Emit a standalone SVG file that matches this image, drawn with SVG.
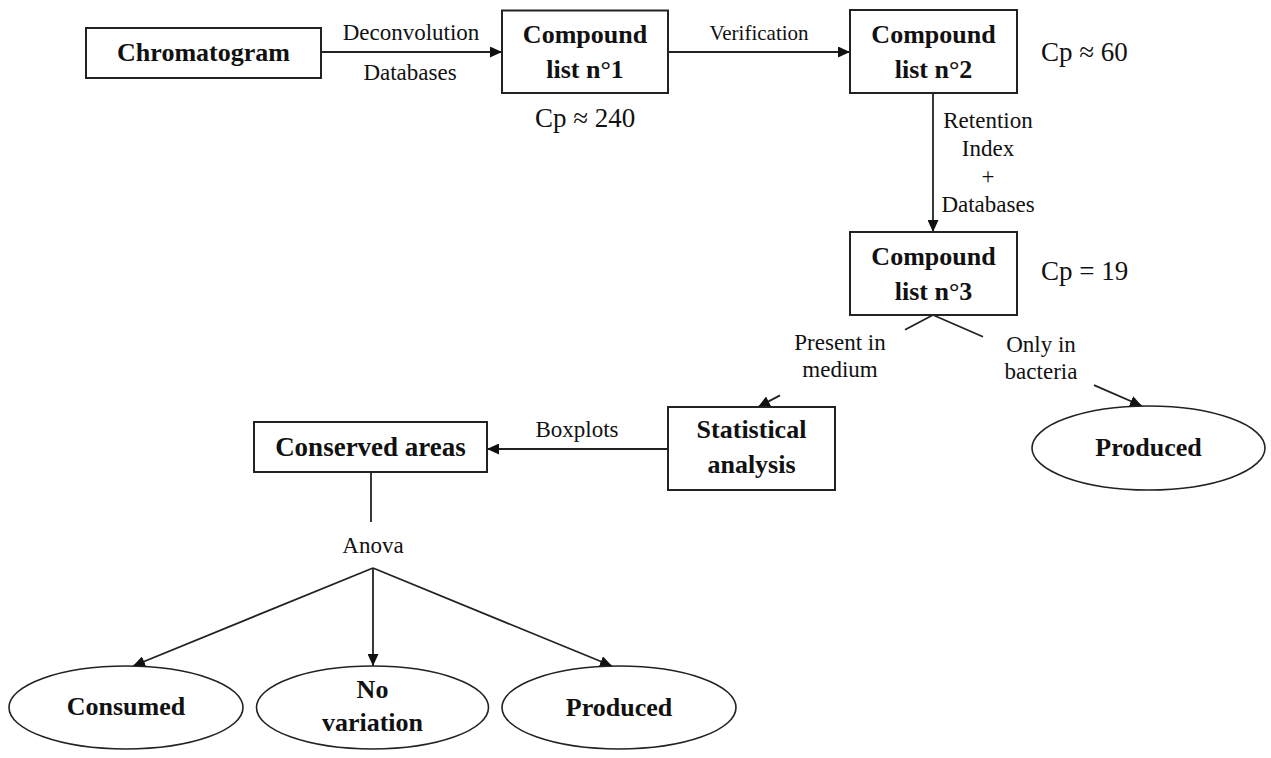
<svg xmlns="http://www.w3.org/2000/svg" width="1271" height="758" viewBox="0 0 1271 758">
<defs>
<style>
.box{fill:#fff;stroke:#222;stroke-width:2}
.ell{fill:#fff;stroke:#222;stroke-width:1.6}
.ln{fill:none;stroke:#222;stroke-width:1.8}
.b{font-family:"Liberation Serif","Times New Roman",serif;font-weight:bold;font-size:26px;fill:#111;text-anchor:middle}
.l{font-family:"Liberation Serif","Times New Roman",serif;font-size:23px;fill:#111;text-anchor:middle}
.cp{font-family:"Liberation Serif","Times New Roman",serif;font-size:27px;fill:#111}
</style>
<marker id="ah" markerUnits="userSpaceOnUse" markerWidth="12" markerHeight="11" refX="12" refY="5.5" orient="auto">
<path d="M0,0 L12,5.5 L0,11 z" fill="#111"/>
</marker>
</defs>
<rect width="1271" height="758" fill="#fff"/>

<g id="connectors">
<line class="ln" x1="321" y1="52" x2="502" y2="52" marker-end="url(#ah)"/>
<line class="ln" x1="668" y1="52" x2="850" y2="52" marker-end="url(#ah)"/>
<line class="ln" x1="933" y1="93" x2="933" y2="232" marker-end="url(#ah)"/>
<line class="ln" x1="933" y1="315" x2="905" y2="329.7"/>
<line class="ln" x1="780" y1="395.4" x2="758" y2="407" marker-end="url(#ah)"/>
<line class="ln" x1="933" y1="315" x2="983" y2="336.8"/>
<line class="ln" x1="1094" y1="385.1" x2="1142" y2="406" marker-end="url(#ah)"/>
<line class="ln" x1="668" y1="449" x2="487" y2="449" marker-end="url(#ah)"/>
<line class="ln" x1="371" y1="472" x2="371" y2="522"/>
<line class="ln" x1="373" y1="568" x2="133" y2="666" marker-end="url(#ah)"/>
<line class="ln" x1="373" y1="568" x2="373" y2="666" marker-end="url(#ah)"/>
<line class="ln" x1="373" y1="568" x2="612" y2="666" marker-end="url(#ah)"/>
<text class="l" x="411" y="40">Deconvolution</text>
<text class="l" x="410" y="80">Databases</text>
<text class="l" x="759" y="40" style="font-size:21px">Verification</text>
<text class="l" x="988" y="128">Retention</text>
<text class="l" x="988" y="156">Index</text>
<text class="l" x="988" y="184">+</text>
<text class="l" x="988" y="212">Databases</text>
<text class="l" x="840" y="350">Present in</text>
<text class="l" x="840" y="377">medium</text>
<text class="l" x="1041" y="352">Only in</text>
<text class="l" x="1041" y="379">bacteria</text>
<text class="l" x="577" y="437">Boxplots</text>
<text class="l" x="373" y="553">Anova</text>
</g>

<g id="chromatogram">
<rect class="box" x="86" y="28" width="235" height="50"/>
<text class="b" x="203.5" y="61">Chromatogram</text>
</g>

<g id="list1">
<rect class="box" x="502" y="10.5" width="166" height="82.5"/>
<text class="b" x="585" y="43">Compound</text>
<text class="b" x="585" y="78">list n°1</text>
<text class="cp" x="535" y="127">Cp ≈ 240</text>
</g>

<g id="list2">
<rect class="box" x="850" y="10" width="167" height="83"/>
<text class="b" x="933.5" y="43">Compound</text>
<text class="b" x="933.5" y="78">list n°2</text>
<text class="cp" x="1041" y="61">Cp ≈ 60</text>
</g>

<g id="list3">
<rect class="box" x="850" y="232" width="167" height="83"/>
<text class="b" x="933.5" y="265">Compound</text>
<text class="b" x="933.5" y="300">list n°3</text>
<text class="cp" x="1041" y="280">Cp = 19</text>
</g>

<g id="statistical">
<rect class="box" x="668" y="407" width="167" height="83"/>
<text class="b" x="751.5" y="438">Statistical</text>
<text class="b" x="751.5" y="473">analysis</text>
</g>

<g id="produced-top">
<ellipse class="ell" cx="1148.5" cy="448" rx="116.5" ry="42"/>
<text class="b" x="1148.5" y="456">Produced</text>
</g>

<g id="conserved">
<rect class="box" x="254" y="422" width="233" height="50"/>
<text class="b" x="370.5" y="456" style="font-size:27px">Conserved areas</text>
</g>

<g id="consumed">
<ellipse class="ell" cx="126" cy="707.5" rx="117" ry="41.5"/>
<text class="b" x="126" y="715">Consumed</text>
</g>

<g id="novariation">
<ellipse class="ell" cx="372.5" cy="707.5" rx="116" ry="41.5"/>
<text class="b" x="372.5" y="698">No</text>
<text class="b" x="372.5" y="731">variation</text>
</g>

<g id="produced">
<ellipse class="ell" cx="619" cy="707.5" rx="117" ry="41.5"/>
<text class="b" x="619" y="716">Produced</text>
</g>
</svg>
